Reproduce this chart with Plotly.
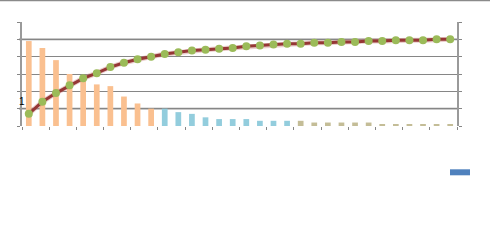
import plotly.graph_objects as go

categories = [str(i) for i in range(1, 33)]
counts = [49, 45, 38, 30, 26, 24, 23, 17, 13, 10,
          10, 8, 7, 5, 4, 4, 4, 3, 3, 3,
          3, 2, 2, 2, 2, 2, 1, 1, 1, 1, 1, 1]
bar_colors = ["#FAC090"] * 10 + ["#93CDDD"] * 10 + ["#C4BD97"] * 12
cumulative = [0.14, 0.28, 0.38, 0.47, 0.55, 0.61, 0.68, 0.73, 0.77, 0.80,
              0.83, 0.85, 0.87, 0.88, 0.89, 0.90, 0.92, 0.93, 0.94, 0.95,
              0.95, 0.96, 0.96, 0.97, 0.97, 0.98, 0.98, 0.99, 0.99, 0.99, 1.0, 1.0]

fig = go.Figure()
fig.add_trace(go.Bar(x=categories, y=counts, marker=dict(color=bar_colors, line=dict(width=0)),
                     width=0.42, yaxis="y"))
fig.add_trace(go.Scatter(x=categories, y=cumulative, yaxis="y2", mode="lines",
                         line=dict(color="rgba(205,130,130,0.4)", width=5), hoverinfo="skip"))
fig.add_trace(go.Scatter(x=categories, y=cumulative, yaxis="y2", mode="lines+markers",
                         line=dict(color="#953735", width=3),
                         marker=dict(color="#9BBB59", size=8, line=dict(width=0))))

grid = "#868686"
fig.update_layout(
    width=490, height=241,
    margin=dict(l=22, r=33, t=22, b=115),
    paper_bgcolor="white", plot_bgcolor="white",
    showlegend=False,
    xaxis=dict(type="category", range=[-0.5, len(categories) - 0.5], autorange=False,
               tickson="boundaries", ticks="outside", ticklen=3,
               tickcolor=grid, showticklabels=False, showgrid=False, showline=False,
               zeroline=False),
    yaxis=dict(range=[0, 60], dtick=10, showgrid=True, gridcolor=grid, gridwidth=1,
               ticks="outside", ticklen=3, tickcolor=grid, showticklabels=False,
               showline=True, linecolor="#9a9a9a", linewidth=1.5, zeroline=False),
    yaxis2=dict(range=[0, 1.2], overlaying="y", side="right", showgrid=False,
                ticks="outside", ticklen=3, tickcolor=grid, showticklabels=False,
                showline=True, linecolor="#9a9a9a", linewidth=1.5, zeroline=False,
                dtick=0.2),
    font=dict(family="Liberation Sans", color="black"),
)

# light grid lines
for yv in [10, 50]:
    fig.add_shape(type="line", xref="paper", yref="y", x0=-0.007, x1=1.0, y0=yv, y1=yv,
                  line=dict(color="#C8C8C8", width=2.5), layer="between")
# top border
fig.add_shape(type="line", xref="paper", yref="paper", x0=-22/435, x1=468/435,
              y0=1.207, y1=1.207, line=dict(color="#8a8a8a", width=1.5))
# legend key
fig.add_shape(type="rect", xref="paper", yref="paper", x0=428/435, x1=448/435,
              y0=(126 - 175.3)/104, y1=(126 - 169.3)/104,
              fillcolor="#4F81BD", line=dict(width=0))
fig.add_annotation(text="1", xref="paper", yref="paper", x=0.0, y=(126 - 101)/104,
                   showarrow=False, font=dict(size=10, color="black"), xanchor="center", yanchor="middle")

fig.write_html("out.html")
